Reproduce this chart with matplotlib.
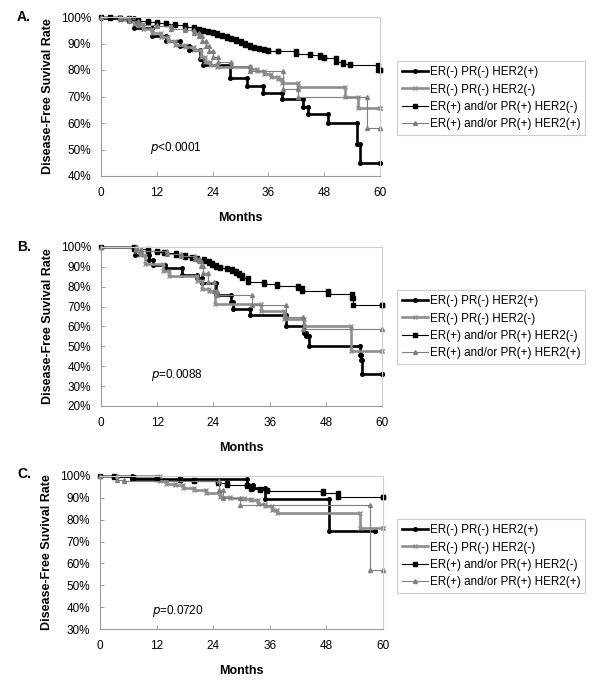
"""
Disease-free survival by receptor subtype, three panels (A, B, C).
"""

import numpy as np
import matplotlib
matplotlib.use("Agg")
import matplotlib.pyplot as plt

plt.rcParams["font.family"] = ["Liberation Sans", "DejaVu Sans"]

# ------------------------------------------------------------
# Data (step points: time, survival %)
# ------------------------------------------------------------

labels = [
    "ER(-) PR(-) HER2(+)",
    "ER(-) PR(-) HER2(-)",
    "ER(+) and/or PR(+) HER2(-)",
    "ER(+) and/or PR(+) HER2(+)",
]

# Panel A
a1_t = [0, 7, 11, 14, 17, 19, 21.3, 22, 27.7, 31.3, 34.9, 38.9, 43.5, 44.5, 48.9, 55, 55.8, 60]
a1_s = [99.5, 96, 93, 91, 89, 87.5, 84, 82, 77, 74, 71.5, 69, 66, 63.5, 60, 52, 45, 45]
a2_t = [0, 4, 7, 9, 11, 13, 14.5, 16, 18, 20, 21.5, 22.3, 23.5, 25, 32, 33.5, 35, 36.5, 38, 39, 42.4, 52.5, 55.3, 60]
a2_s = [100, 99, 97.5, 95.5, 94, 92.5, 91, 89.5, 88.5, 87.5, 85, 83, 82, 81, 80.5, 79.5, 78.5, 77.5, 76.5, 75.2, 73.7, 70, 65.5, 65.5]
a3_t = [0, 2, 4, 6, 8, 10, 12, 14, 16, 18, 20, 21, 22, 23, 24, 25, 26, 27, 28, 29, 30, 31, 32, 33, 34, 35, 36, 38,
        42, 45, 47, 48, 50.5, 52, 53.5, 59.5, 60]
a3_s = [100, 99.8, 99.6, 99, 98.6, 98.2, 97.7, 97.3, 96.8, 96.3, 95.6, 95.2, 94.8, 94.3, 93.8, 93.3, 92.8, 92.2,
        91.6, 91, 90.2, 89.5, 88.8, 88.3, 87.9, 87.5, 87.2, 87, 86, 85.5, 85, 84.5, 83, 82.4, 81.8, 80, 80]
a4_t = [0, 4, 6, 8, 12, 15, 18, 20, 21, 21.8, 22.5, 23.2, 24, 25.2, 28, 32, 39.2, 42.4, 57.1, 60]
a4_s = [100, 99.5, 98.5, 97, 96.5, 95.5, 95, 94, 93, 91, 89, 87, 85, 83, 81.5, 79.5, 73, 70, 58, 58]

# Panel B
b1_t = [0, 7.3, 10.3, 11, 13.6, 17.4, 20.5, 21.6, 24.5, 27.8, 28.2, 31.9, 39.4, 43.3, 43.8, 44.4, 55.2, 55.5, 55.8, 60]
b1_s = [100, 96, 93.5, 91, 89.3, 86, 84.2, 81.7, 75.8, 72.5, 69, 65.8, 60, 56.6, 55, 50, 45.7, 43, 36, 36]
b2_t = [0, 7.5, 8.4, 9.4, 13.2, 14.5, 20.4, 21.5, 23, 24.3, 34.1, 39, 43.3, 53.3, 60]
b2_s = [100, 98, 96, 91.5, 88, 85.5, 83, 79, 78, 71.5, 67.8, 64, 60.5, 47.7, 47.7]
b3_t = [0, 7, 10, 12, 13.5, 16, 18, 19.5, 20.5, 22, 23, 23.8, 24.5, 25.5, 27, 28, 28.8, 29.5, 30.2, 31.3,
        34.8, 37.6, 42, 43, 48.5, 53.5, 53.9, 60]
b3_s = [100, 99, 98, 97.5, 97, 96, 95, 94.5, 94, 93, 92, 91, 90, 89.5, 89, 88, 87, 86, 84.5, 82.6,
        81.5, 80.3, 79.2, 78, 76.5, 74.5, 70.8, 70.8]
b4_t = [0, 7.5, 8.5, 14, 17, 20, 21, 21.3, 21.8, 22.9, 24.1, 24.8, 32.3, 39.4, 43.2, 60]
b4_s = [100, 99, 98, 96.5, 95.5, 94, 93, 90.5, 87, 82.5, 78, 75.8, 70.8, 64.6, 58.5, 58.5]

# Panel C
c1_t = [0, 6.7, 31.2, 32.5, 35, 48.5, 58.2]
c1_s = [100, 98.8, 95.9, 94.4, 89.3, 74.8, 74.8]
c2_t = [0, 12.7, 14, 15.8, 17.5, 20, 22.5, 25.5, 27.6, 30.5, 32, 33.6, 35, 36.5, 37.5, 55.1, 60]
c2_s = [100, 97.5, 96.5, 95.9, 94.4, 93.6, 92.1, 90.6, 89.8, 89.3, 88.8, 87.3, 86.1, 84.6, 83.2, 76.1, 76.1]
c3_t = [0, 3, 7, 12, 17, 20, 25, 27, 31.2, 32, 34, 35.5, 47.3, 50.5, 60]
c3_s = [100, 99.5, 99, 98.6, 98.1, 97.6, 97, 96, 95.3, 94.2, 93.6, 93.3, 92, 90.6, 90.6]
c4_t = [0, 3.5, 5, 25.2, 26, 29.7, 57.2, 60]
c4_s = [100, 98, 97.5, 93.5, 89.8, 86.8, 57.1, 57.1]

panels = [
    dict(tag="A.", curves=[(a1_t, a1_s), (a2_t, a2_s), (a3_t, a3_s), (a4_t, a4_s)],
         ymin=40, ptext="<0.0001", ppos=(10.5, 50.6)),
    dict(tag="B.", curves=[(b1_t, b1_s), (b2_t, b2_s), (b3_t, b3_s), (b4_t, b4_s)],
         ymin=20, ptext="=0.0088", ppos=(10.6, 35.6)),
    dict(tag="C.", curves=[(c1_t, c1_s), (c2_t, c2_s), (c3_t, c3_s), (c4_t, c4_s)],
         ymin=30, ptext="=0.0720", ppos=(11.0, 38.2)),
]

months = [0, 12, 24, 36, 48, 60]

# ------------------------------------------------------------
# Styles
# ------------------------------------------------------------

styles = [
    dict(color="black", lw=1.9, marker="o", ms=2.6),
    dict(color="#8e8e8e", lw=1.9, marker="x", ms=2.8, mew=1.0),
    dict(color="black", lw=0.8, marker="s", ms=2.4),
    dict(color="#7f7f7f", lw=0.8, marker="^", ms=2.8),
]

axes_boxes = [
    [101 / 600, 1 - 176 / 686, 279 / 600, 159 / 686],
    [101 / 600, 1 - 406 / 686, 281 / 600, 159 / 686],
    [100 / 600, 1 - 629 / 686, 283 / 600, 153 / 686],
]
legend_tops = [61, 290, 519]
tag_y = [17, 247, 474]


def step_path(t, s):
    xs, ys = [t[0]], [s[0]]
    for i in range(1, len(t)):
        xs += [t[i], t[i]]
        ys += [s[i - 1], s[i]]
    return xs, ys


# ------------------------------------------------------------
# Draw
# ------------------------------------------------------------

fig = plt.figure(figsize=(6, 6.86), dpi=100)

for k, p in enumerate(panels):
    ax = fig.add_axes(axes_boxes[k])

    for (t, s), st, lab in zip(p["curves"], styles, labels):
        xs, ys = step_path(t, s)
        ax.plot(xs, ys, label=lab, clip_on=False, **st)

    ax.set_xlim(0, 60)
    ax.set_ylim(p["ymin"], 100)
    ax.set_xticks(months)
    yt = np.arange(p["ymin"], 101, 10)
    ax.set_yticks(yt)
    ax.set_yticklabels([f"{v}%" for v in yt])

    for side in ["top", "right"]:
        ax.spines[side].set_color("#cfcfcf")
        ax.spines[side].set_linewidth(0.8)
    for side in ["left", "bottom"]:
        ax.spines[side].set_color("#9a9a9a")
        ax.spines[side].set_linewidth(0.8)

    ax.tick_params(direction="in", length=3, width=0.7, color="#9a9a9a",
                   labelsize=8.5, pad=7)
    ax.tick_params(axis="x", pad=8)

    ax.set_xlabel("Months", fontsize=9, fontweight="bold", labelpad=9)
    ax.set_ylabel("Disease-Free Suvival Rate", fontsize=9, fontweight="bold", labelpad=5)

    ax.text(p["ppos"][0], p["ppos"][1], r"$\it{p}$" + p["ptext"], fontsize=8.5, va="center")

    fig.text(17 / 600, 1 - tag_y[k] / 686, p["tag"], fontsize=10, fontweight="bold",
             va="center", ha="left")

    leg = ax.legend(loc="upper left", bbox_to_anchor=(397 / 600, 1 - legend_tops[k] / 686),
                    bbox_transform=fig.transFigure, borderaxespad=0, fontsize=8.4,
                    frameon=True, fancybox=False, edgecolor="#c0c0c0",
                    handlelength=2.2, handletextpad=0.15, labelspacing=0.45,
                    borderpad=0.45, numpoints=1)
    leg.get_frame().set_linewidth(0.8)

fig.savefig("out.png", dpi=100)
